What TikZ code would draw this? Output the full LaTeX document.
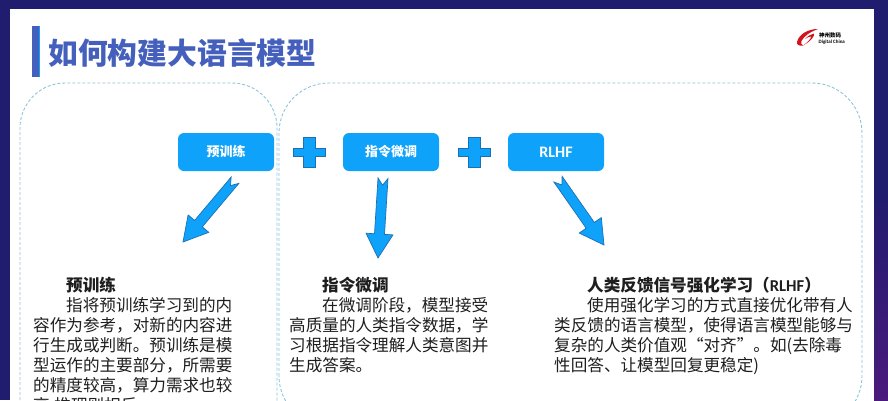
\documentclass[tikz,border=0pt]{standalone}
\usepackage{fontspec}
\setmainfont{Noto Sans CJK SC}
\newfontfamily\latinfont{Carlito}
\usetikzlibrary{calc}
\definecolor{navy}{HTML}{201C6E}
\definecolor{plum}{HTML}{4A1A7C}
\definecolor{titleblue}{HTML}{4460BC}
\definecolor{boxblue}{HTML}{0FA2FA}
\definecolor{edgeblue}{HTML}{1C6FB4}
\definecolor{dashblue}{HTML}{8CC4DC}
\definecolor{bodygray}{HTML}{1E1E1E}
\definecolor{logored}{HTML}{D2141E}
\tikzset{
    frame/.style={draw=dashblue,densely dashed,line width=0.9pt},
    stagebox/.style={fill=boxblue,rounded corners=6pt,minimum width=96pt,minimum height=38pt,inner sep=0pt,text=white,font=\fontsize{13}{13}\selectfont\bfseries},
    plusmark/.style={fill=boxblue,draw=edgeblue,line width=0.8pt},
    arrowbody/.style={fill=boxblue,draw=edgeblue,line width=0.7pt,line join=miter},
    bodytext/.style={anchor=north west,inner sep=0pt,align=left,text=bodygray,font=\fontsize{16.6}{20}\selectfont}
}
\newcommand{\blockarrow}[2]{
    \coordinate (neck) at ($(#2)!24pt!(#1)$);
    \draw[arrowbody] ($(#1)!5pt!90:(#2)$) -- ($(#1)!7pt!(#2)$) -- ($(#1)!5pt!-90:(#2)$)
        -- ($(neck)!5pt!-90:(#2)$) -- ($(neck)!13.5pt!-90:(#2)$) -- (#2)
        -- ($(neck)!13.5pt!90:(#2)$) -- ($(neck)!5pt!90:(#2)$) -- cycle;
}
\newcommand{\plussign}[1]{
    \draw[plusmark] ($(#1)+(-6,-15)$) -- ($(#1)+(6,-15)$) -- ($(#1)+(6,-4)$) -- ($(#1)+(16,-4)$)
        -- ($(#1)+(16,4)$) -- ($(#1)+(6,4)$) -- ($(#1)+(6,15)$) -- ($(#1)+(-6,15)$)
        -- ($(#1)+(-6,4)$) -- ($(#1)+(-16,4)$) -- ($(#1)+(-16,-4)$) -- ($(#1)+(-6,-4)$) -- cycle;
}
\begin{document}
\begin{tikzpicture}[x=1pt,y=-1pt]
    \useasboundingbox (0,0) rectangle (888,400);
    \clip (0,0) rectangle (888,400);

    %%%%%%%%%% Page %%%%%%%%%%
    \fill[navy] (0,0) rectangle (888,400);
    \shade[top color=navy,bottom color=plum] (874,190) rectangle (888,400);
    \fill[white] (10,9) rectangle (874,400);

    %%%%%%%%%% Title %%%%%%%%%%
    \fill[titleblue] (32,26) rectangle (39,77);
    \fill[boxblue] (39.3,26) rectangle (40.3,77);
    \node[anchor=west,inner sep=0pt,text=titleblue,font=\fontsize{29.8}{30}\selectfont\bfseries] (title) at (48,53) {如何构建大语言模型};

    %%%%%%%%%% Logo %%%%%%%%%%
    \fill[logored] (818,29) .. controls (808,29) and (799,34) .. (797,42) .. controls (796.5,45) and (799,46) .. (803,45.5)
        .. controls (801,44.5) and (800.5,43) .. (801.5,41) .. controls (804,36) and (810,32) .. (818,29) -- cycle;
    \fill[logored] (805,39) .. controls (808,36) and (811,34) .. (814,33.5) .. controls (815,36) and (811,41) .. (803,45.5)
        .. controls (808,42) and (811,39) .. (811,36.5) .. controls (809,36.5) and (807,37.5) .. (805,39) -- cycle;
    \node[anchor=west,inner sep=0pt,font=\fontsize{5.5}{6}\selectfont\bfseries] (logocn) at (819,35) {神州数码};
    \node[anchor=west,inner sep=0pt,font=\latinfont\fontsize{5}{6}\selectfont\bfseries] (logoen) at (818.5,42) {Digital China};

    %%%%%%%%%% Frames %%%%%%%%%%
    \draw[frame,rounded corners=45pt] (20,450) rectangle (277,83);
    \draw[frame,rounded corners=50pt] (279,426) rectangle (862,83);

    %%%%%%%%%% Boxes %%%%%%%%%%
    \node[stagebox] (prebox) at (226,152) {预训练};
    \node[stagebox] (tunebox) at (391,152) {指令微调};
    \node[stagebox,font=\latinfont\fontsize{16}{16}\selectfont\bfseries] (rlhfbox) at (556,152) {RLHF};
    \coordinate (plusa) at (309,152);
    \coordinate (plusb) at (474,152);
    \plussign{plusa}
    \plussign{plusb}

    %%%%%%%%%% Arrows %%%%%%%%%%
    \coordinate (pretail) at ($(prebox.south)+(9,9)$);
    \coordinate (pretip) at (183,242);
    \coordinate (tunetail) at ($(tunebox.south)+(-8,7)$);
    \coordinate (tunetip) at (378,258);
    \coordinate (rlhftail) at ($(rlhfbox.south)+(2,8)$);
    \coordinate (rlhftip) at (604,245);
    \blockarrow{pretail}{pretip}
    \blockarrow{tunetail}{tunetip}
    \blockarrow{rlhftail}{rlhftip}

    %%%%%%%%%% Texts %%%%%%%%%%
    \node[bodytext] (pretext) at (33,276.5) {\hspace*{33pt}\textbf{预训练}\\
        \hspace*{33pt}指将预训练学习到的内\\
        容作为参考，对新的内容进\\
        行生成或判断。预训练是模\\
        型运作的主要部分，所需要\\
        的精度较高，算力需求也较\\
        高,推理则相反。};
    \node[bodytext] (tunetext) at (289,276.5) {\hspace*{33pt}\textbf{指令微调}\\
        \hspace*{33pt}在微调阶段，模型接受\\
        高质量的人类指令数据，学\\
        习根据指令理解人类意图并\\
        生成答案。};
    \node[bodytext] (rlhftext) at (554,276.5) {\hspace*{33pt}\textbf{人类反馈信号强化学习（{\latinfont RLHF}）}\\
        \hspace*{33pt}使用强化学习的方式直接优化带有人\\
        类反馈的语言模型，使得语言模型能够与\\
        复杂的人类价值观“对齐”。如(去除毒\\
        性回答、让模型回复更稳定)};
\end{tikzpicture}
\end{document}
